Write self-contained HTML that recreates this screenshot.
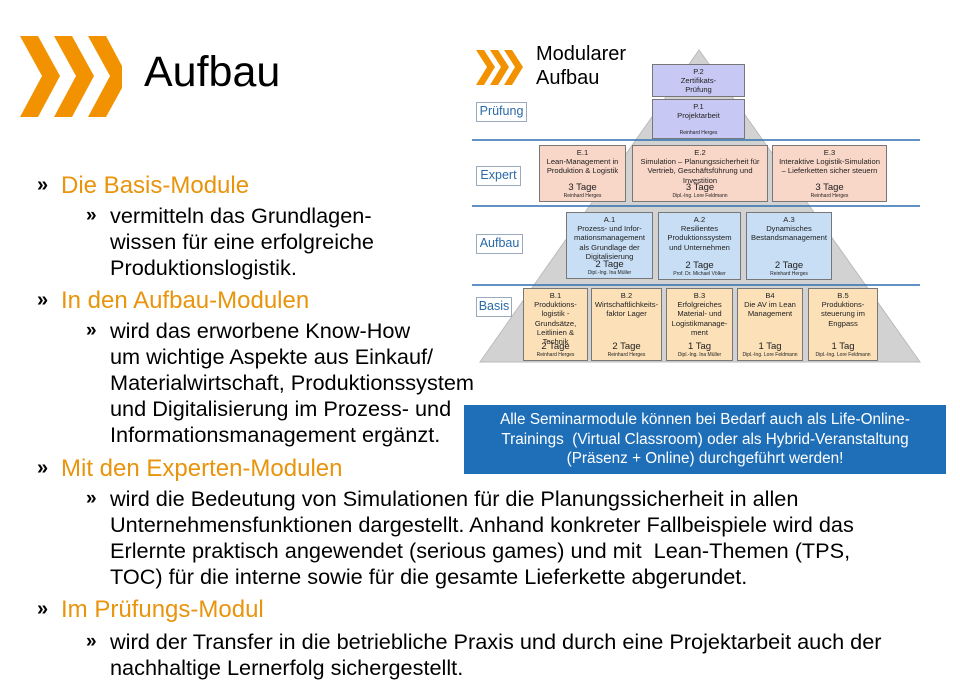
<!DOCTYPE html>
<html><head><meta charset="utf-8"><style>
body{margin:0;width:960px;height:688px;background:#fff;position:relative;overflow:hidden;font-family:"Liberation Sans",Arial,sans-serif;}
.a{position:absolute;}
.h{position:absolute;left:61px;font-size:24px;color:#e8940c;white-space:nowrap}
.h b{position:absolute;left:-24px;top:2px;font-weight:bold;color:#000;font-size:20px}
.s{position:absolute;left:86px;font-size:21.7px;line-height:26px;color:#000;white-space:nowrap}
.s b{position:absolute;left:0;font-size:19px;font-weight:bold}
.s div{margin-left:24px}
.bx{position:absolute;border:1px solid #777;font-size:7.6px;line-height:9.2px;text-align:center;color:#222;box-sizing:border-box;padding-top:2px}
.bx .t{position:absolute;left:0;right:0;bottom:2px}
.bx .t span{display:block;font-size:9.5px;line-height:10px}
.bx .t i{font-style:normal;font-size:5px;line-height:6px;display:block}
.lb{position:absolute;border:1px solid #9ab;color:#2a6aa8;font-size:12.5px;text-align:center;box-sizing:border-box;line-height:17px;background:#fff}
</style></head><body>
<svg class="a" style="left:0;top:0" width="960" height="688">
<g fill="#f39200">
<polygon points="20,36 38,36 60,76 38,117 20,117 42,76"/>
<polygon points="54,36 72,36 94,76 72,117 54,117 76,76"/>
<polygon points="88,36 106,36 122,66 122,88 106,117 88,117 110,76"/>
<polygon points="476,50 484,50 495,67 484,85 476,85 487,67"/>
<polygon points="490,50 498,50 509,67 498,85 490,85 501,67"/>
<polygon points="504,50 512,50 523,67 512,85 504,85 515,67"/>
</g>
<polygon points="699,50 480,362 920,362" fill="#d2d2d2" stroke="#bbb"/>
<g stroke="#2e6fb0" stroke-width="1.5"><line x1="472" y1="140" x2="920" y2="140"/><line x1="472" y1="206" x2="920" y2="206"/><line x1="472" y1="285" x2="920" y2="285"/></g>
</svg>
<div class="a" style="left:144px;top:48px;font-size:43px">Aufbau</div>
<div class="a" style="left:536px;top:42px;font-size:20px;line-height:24px">Modularer<br>Aufbau</div>
<div class="lb" style="left:476px;top:102px;width:51px;height:20px">Prüfung</div>
<div class="lb" style="left:476px;top:166px;width:45px;height:20px">Expert</div>
<div class="lb" style="left:476px;top:234px;width:47px;height:20px">Aufbau</div>
<div class="lb" style="left:476px;top:297px;width:36px;height:20px">Basis</div>
<div class="bx" style="left:652px;top:64px;width:93px;height:33px;background:#c8c8f4">P.2<br>Zertifikats-<br>Prüfung</div>
<div class="bx" style="left:652px;top:99px;width:93px;height:40px;background:#c8c8f4">P.1<br>Projektarbeit<div class="t"><i>Reinhard Herges</i></div></div>
<div class="bx" style="left:539px;top:145px;width:87px;height:57px;background:#f8d6c8">E.1<br>Lean-Management in<br>Produktion &amp; Logistik<div class="t"><span>3 Tage</span><i>Reinhard Herges</i></div></div>
<div class="bx" style="left:632px;top:145px;width:136px;height:57px;background:#f8d6c8">E.2<br>Simulation – Planungssicherheit für<br>Vertrieb, Geschäftsführung und<br>Investition<div class="t"><span>3 Tage</span><i>Dipl.-Ing. Lore Feldmann</i></div></div>
<div class="bx" style="left:772px;top:145px;width:115px;height:57px;background:#f8d6c8">E.3<br>Interaktive Logistik-Simulation<br>– Lieferketten sicher steuern<div class="t"><span>3 Tage</span><i>Reinhard Herges</i></div></div>
<div class="bx" style="left:566px;top:212px;width:87px;height:67px;background:#c8def4">A.1<br>Prozess- und Infor-<br>mationsmanagement<br>als Grundlage der<br>Digitalisierung<div class="t"><span>2 Tage</span><i>Dipl.-Ing. Ina Müller</i></div></div>
<div class="bx" style="left:658px;top:212px;width:83px;height:68px;background:#c8def4">A.2<br>Resilientes<br>Produktionssystem<br>und Unternehmen<div class="t"><span>2 Tage</span><i>Prof. Dr. Michael Völker</i></div></div>
<div class="bx" style="left:746px;top:212px;width:86px;height:68px;background:#c8def4">A.3<br>Dynamisches<br>Bestandsmanagement<div class="t"><span>2 Tage</span><i>Reinhard Herges</i></div></div>
<div class="bx" style="left:523px;top:288px;width:65px;height:73px;background:#fbe0b8">B.1<br>Produktions-<br>logistik -<br>Grundsätze,<br>Leitlinien &amp;<br>Technik<div class="t"><span>2 Tage</span><i>Reinhard Herges</i></div></div>
<div class="bx" style="left:591px;top:288px;width:71px;height:73px;background:#fbe0b8">B.2<br>Wirtschaftlichkeits-<br>faktor Lager<div class="t"><span>2 Tage</span><i>Reinhard Herges</i></div></div>
<div class="bx" style="left:666px;top:288px;width:67px;height:73px;background:#fbe0b8">B.3<br>Erfolgreiches<br>Material- und<br>Logistikmanage-<br>ment<div class="t"><span>1 Tag</span><i>Dipl.-Ing. Ina Müller</i></div></div>
<div class="bx" style="left:737px;top:288px;width:66px;height:73px;background:#fbe0b8">B4<br>Die AV im Lean<br>Management<div class="t"><span>1 Tag</span><i>Dipl.-Ing. Lore Feldmann</i></div></div>
<div class="bx" style="left:808px;top:288px;width:70px;height:73px;background:#fbe0b8">B.5<br>Produktions-<br>steuerung im<br>Engpass<div class="t"><span>1 Tag</span><i>Dipl.-Ing. Lore Feldmann</i></div></div>
<div class="a" style="left:464px;top:405px;width:482px;height:69px;background:#1f6fb8;color:#fff;font-size:15.3px;line-height:19.5px;text-align:center;padding-top:5px;box-sizing:border-box;white-space:nowrap">Alle Seminarmodule können bei Bedarf auch als Life-Online-<br>Trainings &nbsp;(Virtual Classroom) oder als Hybrid-Veranstaltung<br>(Präsenz + Online) durchgeführt werden!</div>
<div class="h" style="top:172px"><b>»</b>Die Basis-Module</div>
<div class="s" style="top:203px"><b>»</b><div>vermitteln das Grundlagen-<br>wissen für eine erfolgreiche<br>Produktionslogistik.</div></div>
<div class="h" style="top:287px"><b>»</b>In den Aufbau-Modulen</div>
<div class="s" style="top:318px"><b>»</b><div>wird das erworbene Know-How<br>um wichtige Aspekte aus Einkauf/<br>Materialwirtschaft, Produktionssystem<br>und Digitalisierung im Prozess- und<br>Informationsmanagement ergänzt.</div></div>
<div class="h" style="top:455px"><b>»</b>Mit den Experten-Modulen</div>
<div class="s" style="top:486px"><b>»</b><div>wird die Bedeutung von Simulationen für die Planungssicherheit in allen<br>Unternehmensfunktionen dargestellt. Anhand konkreter Fallbeispiele wird das<br>Erlernte praktisch angewendet (serious games) und mit &nbsp;Lean-Themen (TPS,<br>TOC) für die interne sowie für die gesamte Lieferkette abgerundet.</div></div>
<div class="h" style="top:596px"><b>»</b>Im Prüfungs-Modul</div>
<div class="s" style="top:629px"><b>»</b><div>wird der Transfer in die betriebliche Praxis und durch eine Projektarbeit auch der<br>nachhaltige Lernerfolg sichergestellt.</div></div>
</body></html>
